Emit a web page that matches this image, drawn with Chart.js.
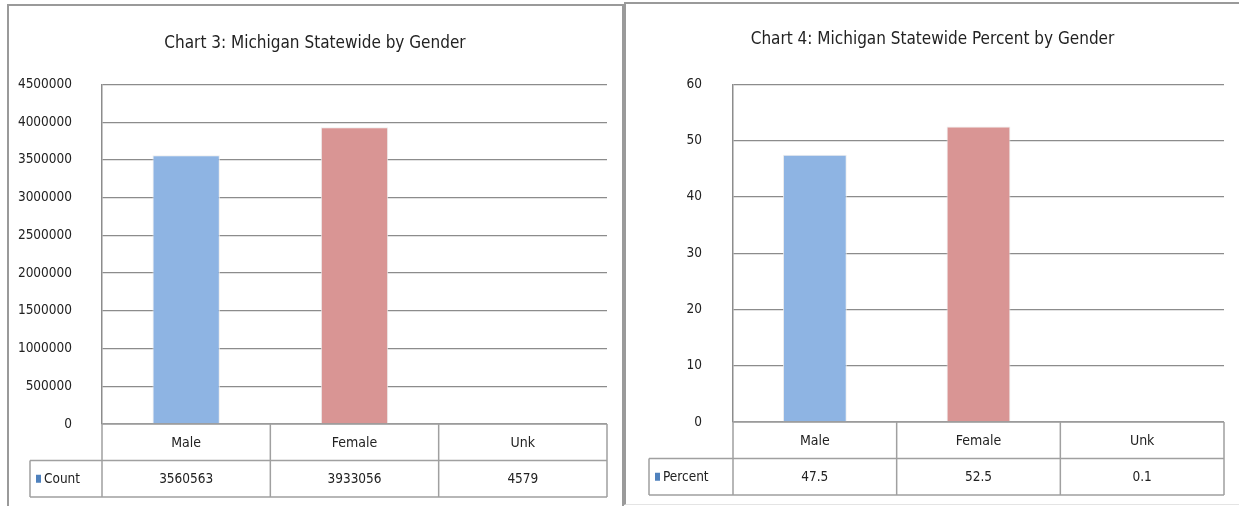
<!DOCTYPE html>
<html>
<head>
<meta charset="utf-8">
<script src="https://cdn.jsdelivr.net/npm/chart.js@4/dist/chart.umd.min.js"></script>
<style>
  body { margin: 0; background: #fff; width: 1239px; height: 506px; overflow: hidden; position: relative; }
  .panel { position: absolute; border: 2px solid #9a9a9a; box-sizing: border-box; background: #fff; }
  #leftPanel { left: 7px; top: 4px; width: 617px; height: 520px; border-bottom: none; }
  #rightPanel { left: 624px; top: 2px; width: 620px; height: 503px; border-right: none; border-bottom: 1px solid #e4e4e4; }
  canvas { position: absolute; }
</style>
</head>
<body>
<div class="panel" id="leftPanel"></div>
<div class="panel" id="rightPanel"></div>
<canvas id="countCanvas" style="left:8px;top:5px;width:614px;height:501px"></canvas>
<canvas id="percentCanvas" style="left:626px;top:3px;width:613px;height:503px"></canvas>
<script>
// values
const categories = ['Male', 'Female', 'Unk'];
const countValues = [3560563, 3933056, 4579];
const percentValues = [47.5, 52.5, 0.1];
const countTickMax = 4500000;
const countTickStep = 500000;
const percentTickMax = 60;
const percentTickStep = 10;

const barColors = ['#8EB4E3', '#D99594', '#8EB4E3'];
const fontFamily = "'DejaVu Sans Condensed', 'Liberation Sans', sans-serif";
const gridColor = '#8c8c8c';
const tableColor = '#a0a0a0';

// draws the category row + data row under the plot, using the x scale
const dataTable = {
    id: 'dataTable',
    afterDraw(chart, args, opts) {
        const ctx = chart.ctx;
        const a = chart.chartArea;
        const x = chart.scales.x;
        const n = chart.data.labels.length;
        const rowH = opts.rowHeight;
        const top = a.bottom;
        const mid = top + rowH;
        const bottom = mid + rowH;
        let edges = [];
        for (let i = 0; i <= n; i++) {
            edges.push(x.getPixelForValue(i - 0.5));
        }

        ctx.save();
        ctx.strokeStyle = tableColor;
        ctx.lineWidth = 1.5;
        ctx.beginPath();
        ctx.moveTo(a.left, top); ctx.lineTo(a.right, top);
        ctx.moveTo(opts.left, mid); ctx.lineTo(a.right, mid);
        ctx.moveTo(opts.left, bottom); ctx.lineTo(a.right, bottom);
        ctx.moveTo(opts.left, mid); ctx.lineTo(opts.left, bottom);
        edges.forEach(function (e) {
            ctx.moveTo(e, top); ctx.lineTo(e, bottom);
        });
        ctx.stroke();

        ctx.fillStyle = '#222';
        ctx.textAlign = 'center';
        ctx.textBaseline = 'middle';
        const values = chart.data.datasets[0].data;
        for (let i = 0; i < n; i++) {
            const cx = x.getPixelForValue(i);
            ctx.font = '14px ' + fontFamily;
            ctx.fillText(chart.data.labels[i], cx, top + rowH / 2 + 1);
            ctx.font = '13.5px ' + fontFamily;
            ctx.fillText(String(values[i]), cx, mid + rowH / 2 + 1);
        }

        // legend key
        ctx.fillStyle = '#4F81BD';
        ctx.fillRect(opts.left + 6, mid + rowH / 2 - 4, 5, 8);
        ctx.fillStyle = '#222';
        ctx.textAlign = 'left';
        ctx.font = '13.5px ' + fontFamily;
        ctx.fillText(chart.data.datasets[0].label, opts.left + 14, mid + rowH / 2 + 1);
        ctx.restore();
    }
};

function genderChart(canvas, title, label, values, tickMax, tickStep, axisWidth, tickPad, pad, tableLeft, barPct) {
    return new Chart(canvas, {
        type: 'bar',
        data: {
            labels: categories,
            datasets: [{
                label: label,
                data: values,
                backgroundColor: barColors,
                borderColor: 'rgba(235,235,235,0.9)',
                borderWidth: 1,
                barPercentage: barPct,
                categoryPercentage: 1
            }]
        },
        options: {
            responsive: false,
            animation: false,
            layout: { padding: { left: 0, right: 0, top: 0, bottom: pad.bottom } },
            scales: {
                x: { display: false },
                y: {
                    min: 0,
                    max: tickMax,
                    afterFit: function (scale) { scale.width = axisWidth; },
                    ticks: {
                        stepSize: tickStep,
                        padding: tickPad,
                        color: '#222',
                        font: { family: fontFamily, size: 13.5 },
                        callback: function (v) { return String(v); }
                    },
                    grid: { color: gridColor, lineWidth: 1.2, drawTicks: false },
                    border: { display: true, color: gridColor, width: 1.5 }
                },
                // empty right-hand strip so the title centres on the whole panel
                yRight: {
                    position: 'right',
                    afterFit: function (scale) { scale.width = pad.right; },
                    ticks: { display: false },
                    grid: { display: false },
                    border: { display: false }
                }
            },
            plugins: {
                legend: { display: false },
                tooltip: { enabled: false },
                title: {
                    display: true,
                    text: title,
                    color: '#222',
                    font: { family: fontFamily, size: 17, weight: 'normal' },
                    padding: pad.title
                },
                dataTable: { rowHeight: 36.5, left: tableLeft }
            }
        },
        plugins: [dataTable]
    });
}

function setSize(c, w, h) { c.width = w; c.height = h; }
const countCanvas = document.getElementById('countCanvas');
const percentCanvas = document.getElementById('percentCanvas');
setSize(countCanvas, 614, 501);
setSize(percentCanvas, 613, 503);

let countPad = { right: 15, bottom: 82, title: { top: 28, bottom: 31 } };
let percentPad = { right: 15, bottom: 84, title: { top: 26, bottom: 35 } };

genderChart(countCanvas, 'Chart 3: Michigan Statewide by Gender', 'Count', countValues,
    countTickMax, countTickStep, 94, 30, countPad, 22, 0.4);
genderChart(percentCanvas, 'Chart 4: Michigan Statewide Percent by Gender', 'Percent', percentValues,
    percentTickMax, percentTickStep, 107, 31, percentPad, 23, 0.39);
</script>
</body>
</html>
